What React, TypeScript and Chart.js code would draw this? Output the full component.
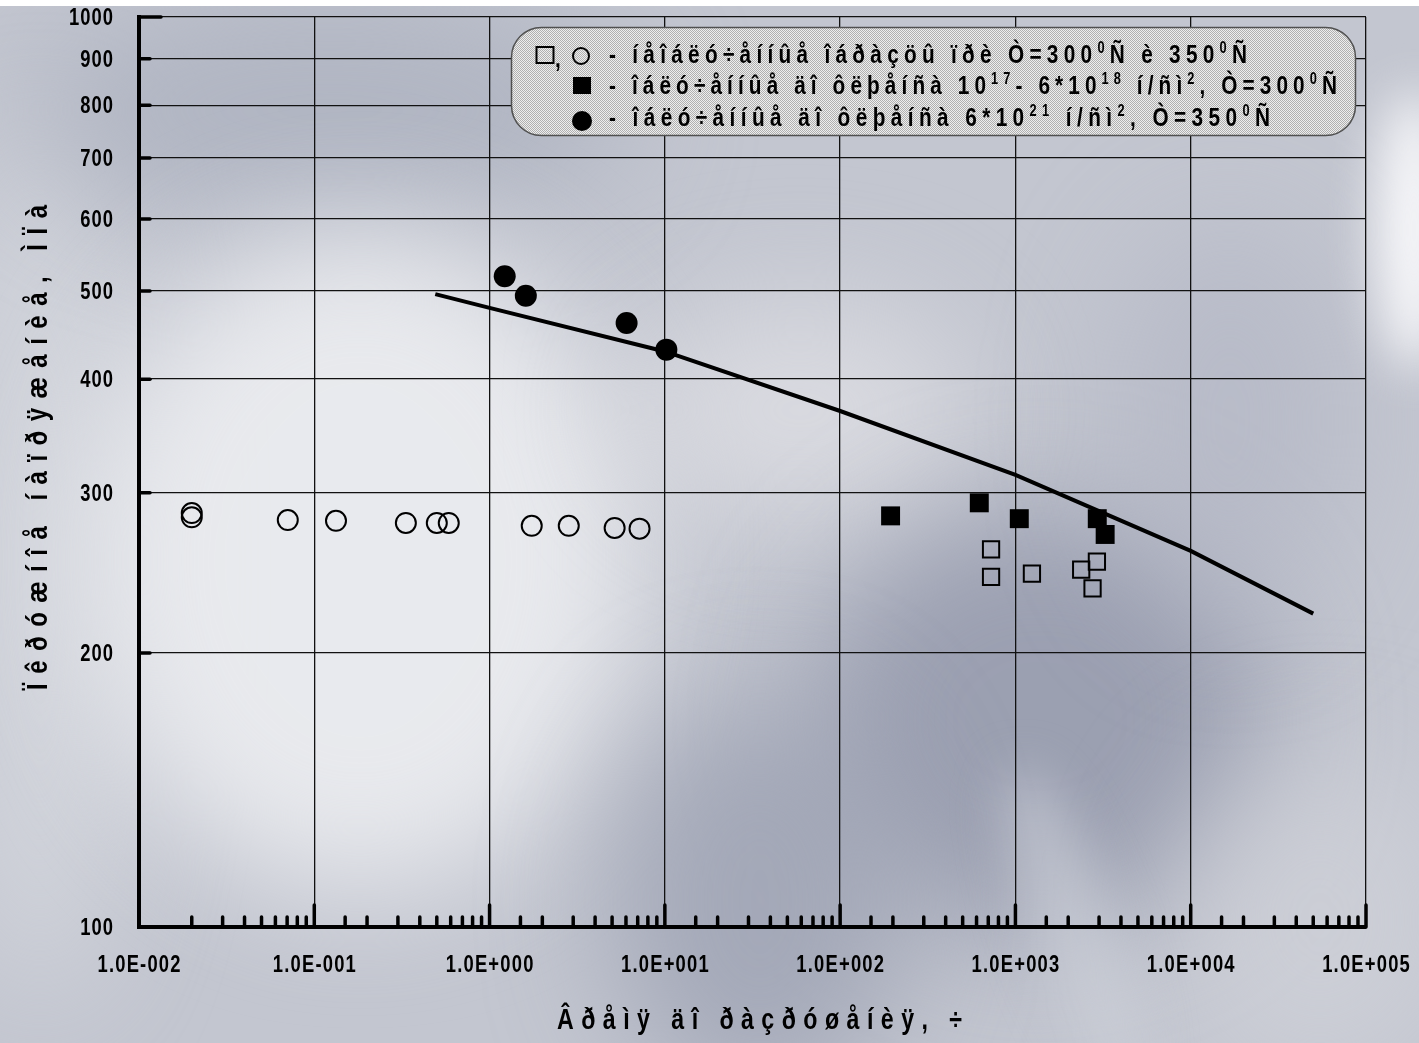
import React, { useEffect, useRef } from 'react';
import { Chart, registerables } from 'chart.js';

Chart.register(...registerables);

const W = 1419;
const H = 1043;
const FAMILY = '"Liberation Sans", Arial, sans-serif';
const NARROW = 0.8;

// Unirradiated specimens at T=300 and 350 C (open markers)
const openCircleHours = [0.02, 0.02, 0.0706, 0.133, 0.333, 0.5, 0.585, 1.74, 2.83, 5.17, 7.17];
const openCircleStress = [285, 282, 280, 279.5, 278, 278, 278, 276, 276, 274.5, 274];
const openSquareHours = [726, 726, 1242, 2372, 2916, 2754];
const openSquareStress = [260, 242.5, 244.5, 247, 252, 235.5];
// Irradiated to 1e17 - 6e18 n/cm2, T=300 C
const filledSquareHours = [194, 622, 1052, 2930, 3250];
const filledSquareStress = [283, 292.5, 281, 281, 270];
// Irradiated to 6e21 n/cm2, T=350 C
const filledCircleHours = [1.22, 1.61, 6.05, 10.2];
const filledCircleStress = [519, 494, 461, 431];
// Long-term strength curve
const curveHours = [0.49, 1, 10, 100, 1000, 10000, 50000];
const curveStress = [496, 479, 429, 369, 314, 259, 221];

const xRange = [0.01, 1e5];
const yRange = [100, 1000];
const yTickValues = [100, 200, 300, 400, 500, 600, 700, 800, 900, 1000];

const yTitle = 'Ïêðóæíîå íàïðÿæåíèå, ÌÏà';
const xTitle = 'Âðåìÿ äî ðàçðóøåíèÿ, ÷';

type Seg = { t: string; sup?: boolean };
const legendLine1: Seg[] = [
  { t: '- íåîáëó÷åííûå îáðàçöû ïðè Ò=300' }, { t: '0', sup: true }, { t: 'Ñ è 350' }, { t: '0', sup: true }, { t: 'Ñ' },
];
const legendLine2: Seg[] = [
  { t: '- îáëó÷åííûå äî ôëþåíñà 10' }, { t: '17', sup: true }, { t: '- 6*10' }, { t: '18', sup: true },
  { t: ' í/ñì' }, { t: '2', sup: true }, { t: ', Ò=300' }, { t: '0', sup: true }, { t: 'Ñ' },
];
const legendLine3: Seg[] = [
  { t: '- îáëó÷åííûå äî ôëþåíñà 6*10' }, { t: '21', sup: true }, { t: ' í/ñì' }, { t: '2', sup: true },
  { t: ', Ò=350' }, { t: '0', sup: true }, { t: 'Ñ' },
];

const zip = (xs: number[], ys: number[]) => xs.map((x, i) => ({ x, y: ys[i] }));

const isDecade = (v: number) => {
  if (!(v > 0)) return false;
  const l = Math.log10(v);
  return Math.abs(l - Math.round(l)) < 1e-6;
};

const fmtExp = (v: number) => {
  const e = Math.round(Math.log10(v));
  const sign = e < 0 ? '-' : '+';
  return '1.0E' + sign + String(Math.abs(e)).padStart(3, '0');
};

type TextOpts = { size: number; spacing?: number; width?: number; align?: 'left' | 'center' | 'right' };

// Narrow bold text, drawn glyph by glyph so spacing and superscripts can be controlled
function drawRich(ctx: CanvasRenderingContext2D, segs: Seg[], x: number, baseline: number, o: TextOpts) {
  const mainFont = `bold ${o.size}px ${FAMILY}`;
  const supFont = `bold ${Math.round(o.size * 0.6)}px ${FAMILY}`;
  (ctx as any).letterSpacing = '0px';
  const glyphs: { ch: string; sup: boolean; w: number }[] = [];
  for (const s of segs) {
    ctx.font = s.sup ? supFont : mainFont;
    for (const ch of s.t) glyphs.push({ ch, sup: !!s.sup, w: ctx.measureText(ch).width * NARROW });
  }
  const natural = glyphs.reduce((a, g) => a + g.w, 0);
  const gaps = Math.max(1, glyphs.length - 1);
  const spacing = o.width !== undefined ? (o.width - natural) / gaps : o.spacing || 0;
  const total = natural + spacing * (glyphs.length - 1);
  let cx = o.align === 'center' ? x - total / 2 : o.align === 'right' ? x - total : x;
  ctx.textAlign = 'left';
  ctx.textBaseline = 'alphabetic';
  for (const g of glyphs) {
    ctx.save();
    ctx.translate(cx, g.sup ? baseline - o.size * 0.4 : baseline);
    ctx.scale(NARROW, 1);
    ctx.font = g.sup ? supFont : mainFont;
    ctx.fillText(g.ch, 0, 0);
    ctx.restore();
    cx += g.w + spacing;
  }
}

function blob(ctx: CanvasRenderingContext2D, x: number, y: number, rx: number, ry: number, color: string, rot = 0) {
  ctx.beginPath();
  ctx.ellipse(x, y, rx, ry, rot, 0, Math.PI * 2);
  ctx.fillStyle = color;
  ctx.fill();
}

const backdrop = {
  id: 'backdrop',
  beforeDraw(chart: Chart) {
    const ctx = chart.ctx;
    ctx.save();
    ctx.fillStyle = '#c3c6d0';
    ctx.fillRect(0, 0, W, H);
    ctx.filter = 'blur(60px)';
    blob(ctx, 40, 560, 90, 440, 'rgba(214,216,222,0.8)');
    blob(ctx, 330, 110, 300, 120, 'rgba(172,177,191,0.8)');
    blob(ctx, 360, 560, 280, 330, 'rgba(236,237,240,0.92)');
    blob(ctx, 800, 410, 170, 110, 'rgba(226,227,231,0.7)');
    blob(ctx, 1040, 720, 230, 210, 'rgba(148,153,171,0.85)');
    blob(ctx, 760, 900, 150, 200, 'rgba(154,159,176,0.75)');
    blob(ctx, 1230, 420, 120, 200, 'rgba(176,180,195,0.6)');
    blob(ctx, 1320, 920, 150, 170, 'rgba(210,212,218,0.6)');
    ctx.filter = 'blur(25px)';
    blob(ctx, 1414, 230, 38, 140, 'rgba(250,250,252,0.95)');
    blob(ctx, 1075, 930, 40, 170, 'rgba(205,208,216,0.6)', -0.35);
    ctx.filter = 'none';
    ctx.fillStyle = '#ffffff';
    ctx.fillRect(0, 0, W, 6);
    ctx.restore();
  },
};

const axisDecor = {
  id: 'axisDecor',
  afterDraw(chart: Chart) {
    const ctx = chart.ctx;
    const xs = chart.scales.x;
    const ys = chart.scales.y;
    const { left, bottom } = chart.chartArea;
    ctx.save();
    ctx.strokeStyle = '#000';
    ctx.fillStyle = '#000';
    ctx.lineCap = 'round';
    ctx.lineWidth = 3.5;
    // inward tick marks and labels on the time axis
    for (const t of xs.ticks) {
      const px = xs.getPixelForValue(t.value);
      const major = isDecade(t.value);
      if (major) drawRich(ctx, [{ t: fmtExp(t.value) }], px, 972, { size: 23, spacing: 1.2, align: 'center' });
      if (px < left + 3) continue;
      ctx.beginPath();
      ctx.moveTo(px, bottom);
      ctx.lineTo(px, bottom - (major ? 22 : 10));
      ctx.stroke();
    }
    // inward tick marks and labels on the stress axis
    for (const t of ys.ticks) {
      const py = ys.getPixelForValue(t.value);
      drawRich(ctx, [{ t: String(Math.round(t.value)) }], 113, py + 8, { size: 23, spacing: 1, align: 'right' });
      if (t.value <= 100.5) continue;
      ctx.beginPath();
      ctx.moveTo(left, py);
      ctx.lineTo(left + (t.value >= 999 ? 22 : 11), py);
      ctx.stroke();
    }
    ctx.restore();

    // axis titles
    ctx.save();
    ctx.fillStyle = '#000';
    drawRich(ctx, [{ t: xTitle }], 557, 1029, { size: 29, width: 405 });
    ctx.translate(47, 690);
    ctx.rotate(-Math.PI / 2);
    drawRich(ctx, [{ t: yTitle }], 0, 0, { size: 30, width: 485 });
    ctx.restore();

    // legend panel
    ctx.save();
    const pc = document.createElement('canvas');
    pc.width = 2;
    pc.height = 2;
    const p = pc.getContext('2d')!;
    p.fillStyle = '#eeeeee';
    p.fillRect(0, 0, 2, 2);
    p.fillStyle = '#b0b0b0';
    p.fillRect(0, 0, 1, 1);
    p.fillRect(1, 1, 1, 1);
    const pattern = ctx.createPattern(pc, 'repeat')!;
    ctx.beginPath();
    (ctx as any).roundRect(511.5, 27.5, 844, 108, 30);
    ctx.fillStyle = pattern;
    ctx.fill();
    ctx.lineWidth = 1.5;
    ctx.strokeStyle = '#505050';
    ctx.stroke();

    ctx.fillStyle = '#000';
    ctx.strokeStyle = '#000';
    ctx.lineWidth = 2;
    ctx.strokeRect(536.5, 47, 17, 16);
    drawRich(ctx, [{ t: ',' }], 555, 67, { size: 26 });
    ctx.beginPath();
    ctx.arc(581, 56, 8, 0, Math.PI * 2);
    ctx.stroke();
    ctx.fillRect(573, 77, 18, 17);
    ctx.beginPath();
    ctx.arc(582, 121, 10, 0, Math.PI * 2);
    ctx.fill();

    drawRich(ctx, legendLine1, 609, 63, { size: 26, width: 638 });
    drawRich(ctx, legendLine2, 609, 94, { size: 26, width: 728 });
    drawRich(ctx, legendLine3, 609, 126, { size: 26, width: 661 });
    ctx.restore();
  },
};

export default function App() {
  const ref = useRef<HTMLCanvasElement>(null);

  useEffect(() => {
    document.body.style.margin = '0';
    document.body.style.overflow = 'hidden';
    const canvas = ref.current!;
    const chart = new Chart(canvas, {
      type: 'scatter',
      data: {
        datasets: [
          {
            type: 'line',
            data: zip(curveHours, curveStress),
            borderColor: '#000',
            borderWidth: 4,
            pointRadius: 0,
            fill: false,
            tension: 0,
            showLine: true,
          } as any,
          {
            data: zip(openCircleHours, openCircleStress),
            pointStyle: 'circle',
            pointRadius: 10,
            pointBorderWidth: 2,
            pointBorderColor: '#000',
            pointBackgroundColor: 'rgba(0,0,0,0)',
          },
          {
            data: zip(openSquareHours, openSquareStress),
            pointStyle: 'rect',
            pointRadius: 11.5,
            pointBorderWidth: 2,
            pointBorderColor: '#000',
            pointBackgroundColor: 'rgba(0,0,0,0)',
          },
          {
            data: zip(filledSquareHours, filledSquareStress),
            pointStyle: 'rect',
            pointRadius: 13.4,
            pointBorderWidth: 0,
            pointBorderColor: '#000',
            pointBackgroundColor: '#000',
          },
          {
            data: zip(filledCircleHours, filledCircleStress),
            pointStyle: 'circle',
            pointRadius: 11,
            pointBorderWidth: 0,
            pointBorderColor: '#000',
            pointBackgroundColor: '#000',
          },
        ],
      },
      options: {
        animation: false,
        responsive: false,
        devicePixelRatio: 1,
        layout: { padding: { left: 0, top: 17, right: 53, bottom: 0 } },
        plugins: { legend: { display: false }, tooltip: { enabled: false }, title: { display: false } },
        scales: {
          x: {
            type: 'logarithmic',
            position: 'bottom',
            min: xRange[0],
            max: xRange[1],
            afterFit: (s: any) => {
              s.height = H - 927;
              s.paddingLeft = 0;
              s.paddingRight = 0;
            },
            grid: {
              color: (c: any) => (c.tick && isDecade(c.tick.value) ? '#111' : 'rgba(0,0,0,0)'),
              lineWidth: 1.3,
              drawTicks: false,
            },
            border: { display: true, color: '#000', width: 4 },
            ticks: { display: false, autoSkip: false },
          },
          y: {
            type: 'logarithmic',
            position: 'left',
            min: yRange[0],
            max: yRange[1],
            afterBuildTicks: (s: any) => {
              s.ticks = yTickValues.map((value) => ({ value }));
            },
            afterFit: (s: any) => {
              s.width = 139;
              s.paddingTop = 0;
              s.paddingBottom = 0;
            },
            grid: {
              color: (c: any) => (c.tick && c.tick.value > 100.5 ? '#111' : 'rgba(0,0,0,0)'),
              lineWidth: 1.3,
              drawTicks: false,
            },
            border: { display: true, color: '#000', width: 4 },
            ticks: { display: false, autoSkip: false },
          },
        },
      },
      plugins: [backdrop, axisDecor],
    });
    return () => chart.destroy();
  }, []);

  return <canvas ref={ref} width={W} height={H} style={{ display: 'block', width: W, height: H }} />;
}
